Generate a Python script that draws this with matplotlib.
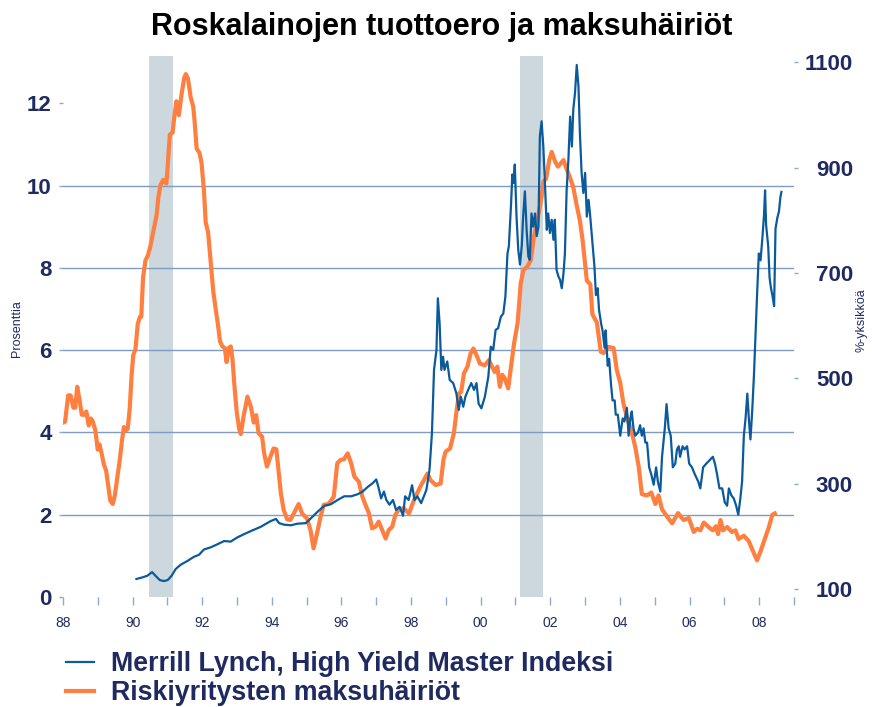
import matplotlib
matplotlib.use("Agg")
import matplotlib.pyplot as plt

NAVY = "#1f2a60"
TICK = "#8fa9c9"
GRID = "#7f9cc2"
SHADE = "#cdd7de"
BLUE = "#0b5a9c"
ORANGE = "#ff7f40"

plt.rcParams["font.family"] = ["Liberation Sans", "DejaVu Sans"]

# recessions (start, end) in decimal years
recessions = [(1990.47, 1991.16), (2001.12, 2001.80)]

# default rate, % (left axis)
default_years = [
    1988.01, 1988.06, 1988.15, 1988.22, 1988.30, 1988.35, 1988.41, 1988.48, 1988.54, 1988.61,
    1988.67, 1988.74, 1988.80, 1988.86, 1988.93, 1989.00, 1989.05, 1989.11, 1989.17, 1989.24,
    1989.31, 1989.36, 1989.43, 1989.49, 1989.56, 1989.63, 1989.70, 1989.75, 1989.81, 1989.86,
    1989.92, 1989.97, 1990.02, 1990.08, 1990.15, 1990.21, 1990.25, 1990.30, 1990.37, 1990.44,
    1990.51, 1990.61, 1990.69, 1990.74, 1990.80, 1990.88, 1990.97, 1991.01, 1991.07, 1991.15,
    1991.21, 1991.26, 1991.33, 1991.40, 1991.48, 1991.53, 1991.59, 1991.67, 1991.74, 1991.78,
    1991.84, 1991.92, 1991.98, 1992.05, 1992.10, 1992.17, 1992.24, 1992.32, 1992.39, 1992.45,
    1992.51, 1992.58, 1992.65, 1992.70, 1992.76, 1992.82, 1992.87, 1992.92, 1992.99, 1993.06,
    1993.11, 1993.19, 1993.30, 1993.40, 1993.48, 1993.55, 1993.62, 1993.72, 1993.78, 1993.86,
    1993.96, 1994.05, 1994.13, 1994.20, 1994.26, 1994.34, 1994.44, 1994.53, 1994.63, 1994.77,
    1994.87, 1995.01, 1995.11, 1995.20, 1995.30, 1995.40, 1995.49, 1995.63, 1995.78, 1995.88,
    1995.97, 1996.07, 1996.18, 1996.28, 1996.37, 1996.50, 1996.60, 1996.69, 1996.79, 1996.88,
    1996.98, 1997.07, 1997.17, 1997.27, 1997.36, 1997.46, 1997.55, 1997.65, 1997.79, 1997.94,
    1998.03, 1998.13, 1998.27, 1998.37, 1998.47, 1998.56, 1998.71, 1998.85, 1998.93, 1998.99,
    1999.12, 1999.23, 1999.31, 1999.38, 1999.44, 1999.52, 1999.62, 1999.71, 1999.79, 1999.88,
    1999.98, 2000.12, 2000.24, 2000.31, 2000.40, 2000.48, 2000.55, 2000.62, 2000.69, 2000.79,
    2000.86, 2000.96, 2001.06, 2001.15, 2001.23, 2001.34, 2001.44, 2001.53, 2001.63, 2001.75,
    2001.80, 2001.88, 2001.97, 2002.04, 2002.14, 2002.22, 2002.30, 2002.38, 2002.46, 2002.56,
    2002.66, 2002.75, 2002.85, 2002.93, 2002.99, 2003.05, 2003.15, 2003.21, 2003.34, 2003.45,
    2003.53, 2003.67, 2003.82, 2003.91, 2004.01, 2004.10, 2004.20, 2004.34, 2004.44, 2004.54,
    2004.63, 2004.78, 2004.90, 2005.02, 2005.11, 2005.21, 2005.35, 2005.50, 2005.67, 2005.83,
    2005.98, 2006.12, 2006.22, 2006.31, 2006.41, 2006.55, 2006.67, 2006.76, 2006.82, 2006.89,
    2006.96, 2007.08, 2007.22, 2007.32, 2007.41, 2007.56, 2007.70, 2007.85, 2007.94, 2008.04,
    2008.18, 2008.28, 2008.38, 2008.45,
]
default_rate = [
    4.24, 4.26, 4.90, 4.90, 4.60, 4.60, 5.11, 4.77, 4.43, 4.43,
    4.51, 4.17, 4.34, 4.26, 4.05, 3.58, 3.71, 3.49, 3.24, 3.07,
    2.64, 2.34, 2.26, 2.47, 2.90, 3.32, 3.83, 4.13, 4.05, 4.09,
    4.60, 5.37, 5.88, 6.01, 6.64, 6.81, 6.81, 7.75, 8.18, 8.30,
    8.52, 8.94, 9.28, 9.71, 10.01, 10.14, 10.05, 10.48, 11.24, 11.29,
    11.75, 12.05, 11.71, 12.18, 12.61, 12.71, 12.61, 12.14, 11.93, 11.58,
    10.90, 10.80, 10.56, 9.88, 9.11, 8.86, 8.18, 7.41, 6.98, 6.64,
    6.22, 6.09, 6.05, 5.71, 6.05, 6.09, 5.79, 5.20, 4.51, 4.09,
    3.96, 4.40, 4.87, 4.62, 4.24, 4.42, 3.98, 3.90, 3.49, 3.17,
    3.41, 3.61, 3.59, 3.01, 2.52, 2.12, 1.89, 1.87, 2.03, 2.26,
    2.03, 1.91, 1.63, 1.18, 1.55, 1.95, 2.24, 2.26, 2.44, 3.25,
    3.33, 3.35, 3.49, 3.25, 2.93, 2.80, 2.44, 2.24, 2.03, 1.67,
    1.71, 1.83, 1.63, 1.42, 1.63, 1.71, 2.00, 2.13, 2.16, 2.03,
    2.24, 2.44, 2.69, 2.84, 3.00, 2.84, 2.72, 2.76, 3.33, 3.53,
    3.61, 3.98, 4.54, 4.95, 4.99, 5.44, 5.60, 5.92, 6.04, 5.88,
    5.67, 5.63, 5.76, 5.63, 5.47, 5.60, 5.11, 5.40, 5.32, 5.07,
    5.52, 6.17, 6.65, 7.62, 7.95, 8.03, 8.19, 8.75, 9.16, 9.73,
    10.09, 10.17, 10.62, 10.82, 10.58, 10.46, 10.54, 10.62, 10.42, 10.21,
    9.96, 9.56, 9.15, 8.66, 8.17, 7.69, 7.60, 6.87, 6.67, 5.96,
    5.93, 6.08, 6.05, 5.52, 5.20, 4.71, 4.38, 4.00, 3.65, 3.17,
    2.50, 2.47, 2.54, 2.26, 2.47, 2.13, 1.96, 1.79, 2.04, 1.87,
    1.92, 1.58, 1.66, 1.62, 1.81, 1.70, 1.62, 1.72, 1.53, 1.87,
    1.62, 1.70, 1.58, 1.62, 1.41, 1.49, 1.36, 1.06, 0.89, 1.11,
    1.45, 1.70, 2.00, 2.03,
]

# Merrill Lynch High Yield Master index, percentage points x 100 (right axis)
index_years = [
    1990.11, 1990.28, 1990.42, 1990.56, 1990.66, 1990.78, 1990.90, 1991.01, 1991.12, 1991.24,
    1991.38, 1991.57, 1991.76, 1991.91, 1992.05, 1992.24, 1992.44, 1992.63, 1992.82, 1993.01,
    1993.20, 1993.40, 1993.68, 1993.97, 1994.12, 1994.21, 1994.36, 1994.55, 1994.74, 1994.98,
    1995.12, 1995.32, 1995.51, 1995.70, 1995.89, 1996.08, 1996.28, 1996.47, 1996.61, 1996.76,
    1996.90, 1997.00, 1997.06, 1997.14, 1997.22, 1997.29, 1997.38, 1997.48, 1997.57, 1997.67,
    1997.77, 1997.83, 1997.93, 1998.03, 1998.10, 1998.18, 1998.29, 1998.44, 1998.53, 1998.60,
    1998.66, 1998.73, 1998.77, 1998.82, 1998.87, 1998.92, 1998.96, 1999.04, 1999.11, 1999.21,
    1999.30, 1999.37, 1999.43, 1999.50, 1999.56, 1999.64, 1999.73, 1999.81, 1999.88, 1999.94,
    2000.02, 2000.12, 2000.22, 2000.29, 2000.36, 2000.43, 2000.50, 2000.58, 2000.65, 2000.71,
    2000.77, 2000.81, 2000.87, 2000.91, 2000.94, 2000.98, 2001.03, 2001.08, 2001.13, 2001.18,
    2001.22, 2001.27, 2001.32, 2001.37, 2001.41, 2001.46, 2001.51, 2001.56, 2001.61, 2001.66,
    2001.70, 2001.75, 2001.80, 2001.85, 2001.90, 2001.94, 2001.99, 2002.04, 2002.09, 2002.13,
    2002.18, 2002.23, 2002.28, 2002.33, 2002.38, 2002.42, 2002.47, 2002.52, 2002.57, 2002.62,
    2002.66, 2002.71, 2002.76, 2002.81, 2002.85, 2002.90, 2002.95, 2003.00, 2003.05, 2003.10,
    2003.14, 2003.27, 2003.31, 2003.36, 2003.40, 2003.46, 2003.50, 2003.56, 2003.59, 2003.65,
    2003.69, 2003.75, 2003.79, 2003.85, 2003.88, 2003.94, 2004.01, 2004.08, 2004.13, 2004.20,
    2004.25, 2004.30, 2004.34, 2004.39, 2004.44, 2004.52, 2004.58, 2004.63, 2004.68, 2004.73,
    2004.78, 2004.84, 2004.90, 2004.97, 2005.04, 2005.09, 2005.16, 2005.21, 2005.29, 2005.34,
    2005.40, 2005.46, 2005.52, 2005.59, 2005.64, 2005.69, 2005.73, 2005.80, 2005.86, 2005.93,
    2005.99, 2006.07, 2006.15, 2006.25, 2006.31, 2006.39, 2006.48, 2006.57, 2006.67, 2006.73,
    2006.79, 2006.86, 2006.94, 2007.01, 2007.08, 2007.13, 2007.20, 2007.27, 2007.34, 2007.40,
    2007.46, 2007.51, 2007.56, 2007.61, 2007.66, 2007.71, 2007.75, 2007.80, 2007.85, 2007.90,
    2007.94, 2007.99, 2008.04, 2008.09, 2008.14, 2008.17, 2008.20, 2008.26, 2008.30, 2008.34,
    2008.38, 2008.43, 2008.47, 2008.52, 2008.57, 2008.61, 2008.64,
]
index_spread = [
    119, 122, 125, 132, 125, 117, 115, 117, 125, 138,
    146, 153, 161, 165, 175, 179, 185, 191, 190, 198,
    204, 210, 218, 229, 233, 225, 222, 221, 224, 225,
    234, 247, 258, 261, 269, 276, 276, 280, 285, 294,
    301, 308, 294, 272, 285, 269, 260, 269, 250, 256,
    239, 276, 269, 297, 269, 276, 263, 288, 326, 396,
    516, 554, 652, 605, 516, 541, 516, 532, 497, 491,
    472, 440, 465, 446, 465, 478, 491, 478, 491, 452,
    443, 465, 503, 560, 554, 592, 595, 617, 623, 655,
    737, 751, 827, 887, 871, 906, 807, 744, 716, 751,
    807, 855, 782, 731, 725, 813, 788, 813, 770, 788,
    959, 988, 940, 864, 782, 813, 776, 801, 763, 801,
    706, 694, 687, 671, 700, 737, 858, 915, 997, 940,
    1010, 1042, 1095, 1054, 966, 890, 852, 890, 807, 839,
    813, 711, 658, 671, 630, 604, 591, 558, 591, 524,
    537, 484, 458, 458, 431, 431, 391, 424, 418, 444,
    391, 424, 437, 405, 391, 397, 411, 391, 405, 378,
    378, 331, 318, 298, 331, 304, 285, 351, 405, 451,
    405, 391, 331, 338, 365, 371, 351, 371, 365, 371,
    338, 331, 318, 304, 291, 331, 338, 344, 351, 338,
    318, 291, 291, 265, 258, 291, 278, 272, 258, 241,
    272, 304, 391, 424, 471, 418, 384, 437, 505, 591,
    658, 737, 724, 764, 810, 857, 791, 751, 691, 671,
    658, 637, 784, 804, 817, 844, 854,
]

left_ticks = [0, 2, 4, 6, 8, 10, 12]
grid_levels = [2, 4, 6, 8, 10]
right_ticks = [100, 300, 500, 700, 900, 1100]
year_ticks = list(range(1988, 2010))
year_labels = [f"{y % 100:02d}" if y % 2 == 0 else "" for y in year_ticks]

fig = plt.figure(figsize=(8.72, 7.07), dpi=100, facecolor="white")
ax = fig.add_axes([0.0722, 0.1556, 0.8383, 0.7652])
ax2 = ax.twinx()

for start, end in recessions:
    ax.axvspan(start, end, color=SHADE, lw=0, zorder=0)
for level in grid_levels:
    ax.axhline(level, color=GRID, lw=1.0, zorder=1)

orange_line, = ax.plot(default_years, default_rate, color=ORANGE, lw=3.0,
                       solid_joinstyle="round", zorder=3,
                       label="Riskiyritysten maksuhäiriöt")
blue_line, = ax2.plot(index_years, index_spread, color=BLUE, lw=1.6, zorder=3,
                      label="Merrill Lynch, High Yield Master Indeksi")

ax.set_xlim(1988, 2009)
ax.set_ylim(0, 13.15)
ax2.set_ylim(84.8, 1112)

for a in (ax, ax2):
    for side in a.spines.values():
        side.set_visible(False)

ax.set_yticks(left_ticks)
ax.tick_params(axis="y", length=3, width=1, color=TICK, pad=5,
               labelsize=16, labelcolor=NAVY)
for lab in ax.get_yticklabels():
    lab.set_fontweight("bold")

ax.set_xticks(year_ticks)
ax.set_xticklabels(year_labels)
ax.tick_params(axis="x", length=6, width=1, color=TICK, pad=8,
               labelsize=10, labelcolor=NAVY)

ax2.set_yticks(right_ticks)
ax2.tick_params(axis="y", length=3, width=1, color=TICK, pad=39.5,
                labelsize=16, labelcolor=NAVY)
for lab in ax2.get_yticklabels():
    lab.set_fontweight("bold")
    lab.set_horizontalalignment("right")

fig.text(0.0195, 0.535, "Prosenttia", rotation=90, ha="center", va="center",
         fontsize=9, color=NAVY)
fig.text(0.988, 0.547, "%-yksikköä", rotation=90, ha="center", va="center",
         fontsize=9, color=NAVY)

fig.text(0.507, 0.962, "Roskalainojen tuottoero ja maksuhäiriöt",
         ha="center", va="center", fontsize=22, fontweight="bold", color="black")

fig.legend(handles=[blue_line, orange_line], loc="upper left",
           bbox_to_anchor=(0.0757, 0.079), frameon=False, borderpad=0,
           borderaxespad=0, handlelength=1.06, handletextpad=0.6,
           labelspacing=0.12, prop={"size": 19.3, "weight": "bold"},
           labelcolor=NAVY)

fig.savefig("out.png", dpi=100, facecolor="white")
